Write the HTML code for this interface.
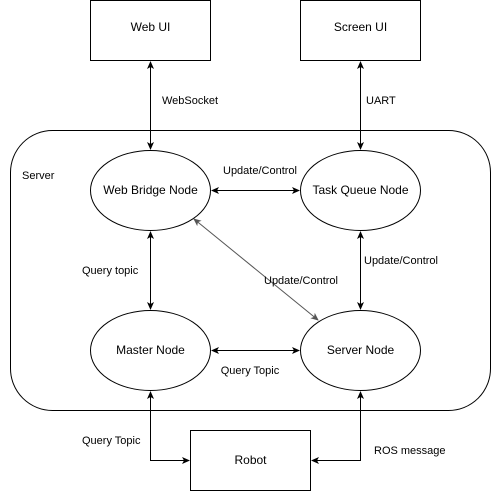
<!DOCTYPE html>
<html><head><meta charset="utf-8"><style>
html,body{margin:0;padding:0;background:#fff;}
svg text{font-family:"Liberation Sans",sans-serif;font-size:11px;fill:#000;}
</style></head><body>
<svg width="491" height="491" viewBox="0 0 491 491" xmlns="http://www.w3.org/2000/svg">
<defs>
<marker id="a" markerWidth="8" markerHeight="8" refX="7" refY="4" orient="auto-start-reverse" markerUnits="userSpaceOnUse"><path d="M0,0.5 L8,4 L0,7.5 L2,4 Z" fill="#000"/></marker>
<marker id="g" markerWidth="8" markerHeight="8" refX="7" refY="4" orient="auto-start-reverse" markerUnits="userSpaceOnUse"><path d="M0,0.5 L8,4 L0,7.5 L2,4 Z" fill="#555"/></marker>
</defs>
<g fill="#fff" stroke="#000" stroke-width="1">
<rect x="90.5" y="0.5" width="120" height="60"/>
<rect x="300.5" y="0.5" width="120" height="60"/>
<rect x="10.5" y="130.5" width="480" height="280" rx="42" ry="42"/>
<ellipse cx="150.5" cy="190.5" rx="60" ry="40"/>
<ellipse cx="360.5" cy="190.5" rx="60" ry="40"/>
<ellipse cx="150.5" cy="350.5" rx="60" ry="40"/>
<ellipse cx="360.5" cy="350.5" rx="60" ry="40"/>
<rect x="190.5" y="430.5" width="120" height="60"/>
</g>
<g stroke="#000" fill="none">
<line x1="150.5" y1="62" x2="150.5" y2="149" marker-start="url(#a)" marker-end="url(#a)"/>
<line x1="360.5" y1="62" x2="360.5" y2="149" marker-start="url(#a)" marker-end="url(#a)"/>
<line x1="212" y1="190.5" x2="299" y2="190.5" marker-start="url(#a)" marker-end="url(#a)"/>
<line x1="150.5" y1="232" x2="150.5" y2="309" marker-start="url(#a)" marker-end="url(#a)"/>
<line x1="360.5" y1="232" x2="360.5" y2="309" marker-start="url(#a)" marker-end="url(#a)"/>
<line x1="212" y1="350.5" x2="299" y2="350.5" marker-start="url(#a)" marker-end="url(#a)"/>
<polyline points="150.5,392 150.5,460.5 189,460.5" marker-start="url(#a)" marker-end="url(#a)"/>
<polyline points="360.5,392 360.5,460.5 312,460.5" marker-start="url(#a)" marker-end="url(#a)"/>
</g>
<line x1="194" y1="219" x2="318" y2="320" stroke="#555" marker-start="url(#g)" marker-end="url(#g)"/>
<g font-size="12">
<text x="150.5" y="31" text-anchor="middle" style="font-size:12px">Web UI</text>
<text x="360.5" y="31" text-anchor="middle" style="font-size:12px">Screen UI</text>
<text x="150.5" y="194" text-anchor="middle" style="font-size:12px">Web Bridge Node</text>
<text x="360.5" y="194" text-anchor="middle" style="font-size:12px">Task Queue Node</text>
<text x="150.5" y="354" text-anchor="middle" style="font-size:12px">Master Node</text>
<text x="360.5" y="354" text-anchor="middle" style="font-size:12px">Server Node</text>
<text x="250.5" y="464" text-anchor="middle" style="font-size:12px">Robot</text>
</g>
<text x="22" y="179">Server</text>
<text x="162" y="104">WebSocket</text>
<text x="366" y="104">UART</text>
<text x="260" y="174" text-anchor="middle">Update/Control</text>
<text x="82" y="274">Query topic</text>
<text x="364" y="264">Update/Control</text>
<text x="264" y="284">Update/Control</text>
<text x="250" y="374" text-anchor="middle">Query Topic</text>
<text x="82" y="444">Query Topic</text>
<text x="374" y="454">ROS message</text>
</svg>
</body></html>
